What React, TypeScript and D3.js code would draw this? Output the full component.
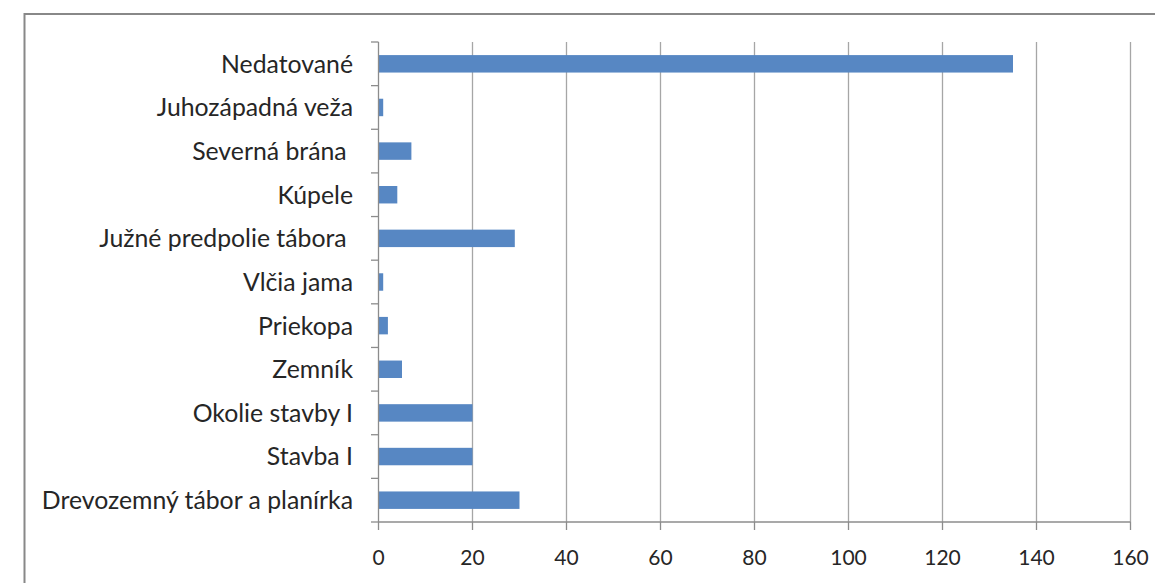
import React from "react";
import * as d3 from "d3";

const categories = [
  "Nedatované",
  "Juhozápadná veža",
  "Severná brána\u00a0",
  "Kúpele",
  "Južné predpolie tábora\u00a0",
  "Vlčia jama",
  "Priekopa",
  "Zemník",
  "Okolie stavby I",
  "Stavba I",
  "Drevozemný tábor a planírka",
];
const values = [135, 1, 7, 4, 29, 1, 2, 5, 20, 20, 30];
const xTicks = [0, 20, 40, 60, 80, 100, 120, 140, 160];

const W = 1155;
const H = 583;
const left = 378.5;
const right = 1130.5;
const top = 42;
const bottom = 522;
const font = "Lato, 'Open Sans', sans-serif";

export default function App() {
  const x = d3.scaleLinear().domain([0, 160]).range([left, right]);
  const y = d3.scaleBand<string>().domain(categories).range([top, bottom]).paddingInner(0.6).paddingOuter(0.3);
  const yOuter = d3.scaleBand<string>().domain(categories).range([top, bottom]);
  const boundaries = d3.range(categories.length + 1).map((i) => top + i * yOuter.step());
  return (
    <svg width={W} height={H} style={{ position: "absolute", left: 0, top: 0, background: "#fff" }}>
      <rect x={24.5} y={14} width={W + 10} height={H + 10} fill="#fff" stroke="#888" strokeWidth={2} />
      {xTicks.slice(1).map((t) => (
        <line key={"g" + t} x1={x(t)} x2={x(t)} y1={top} y2={bottom} stroke="#a6a6a6" strokeWidth={1.3} />
      ))}
      {categories.map((c, i) => (
        <rect key={c} x={x(0)} y={y(c)!} width={x(values[i]) - x(0)} height={y.bandwidth()} fill="#5787c3" />
      ))}
      <line x1={left} x2={left} y1={top} y2={bottom} stroke="#8c8c8c" strokeWidth={1.3} />
      <line x1={left} x2={right} y1={bottom} y2={bottom} stroke="#8c8c8c" strokeWidth={1.3} />
      {boundaries.map((b, i) => (
        <line key={"yt" + i} x1={371} x2={left} y1={b} y2={b} stroke="#8c8c8c" strokeWidth={1.3} />
      ))}
      {xTicks.map((t) => (
        <line key={"xt" + t} x1={x(t)} x2={x(t)} y1={bottom} y2={bottom + 8} stroke="#8c8c8c" strokeWidth={1.3} />
      ))}
      {categories.map((c) => (
        <text key={"l" + c} x={353} y={yOuter(c)! + yOuter.bandwidth() / 2} dy="0.36em" textAnchor="end"
          fontFamily={font} fontSize={24.8} fill="#262626">{c}</text>
      ))}
      {xTicks.map((t) => (
        <text key={"xl" + t} x={x(t)} y={557} dy="0.36em" textAnchor="middle" fontFamily={font} fontSize={21} fill="#262626">{t}</text>
      ))}
    </svg>
  );
}
